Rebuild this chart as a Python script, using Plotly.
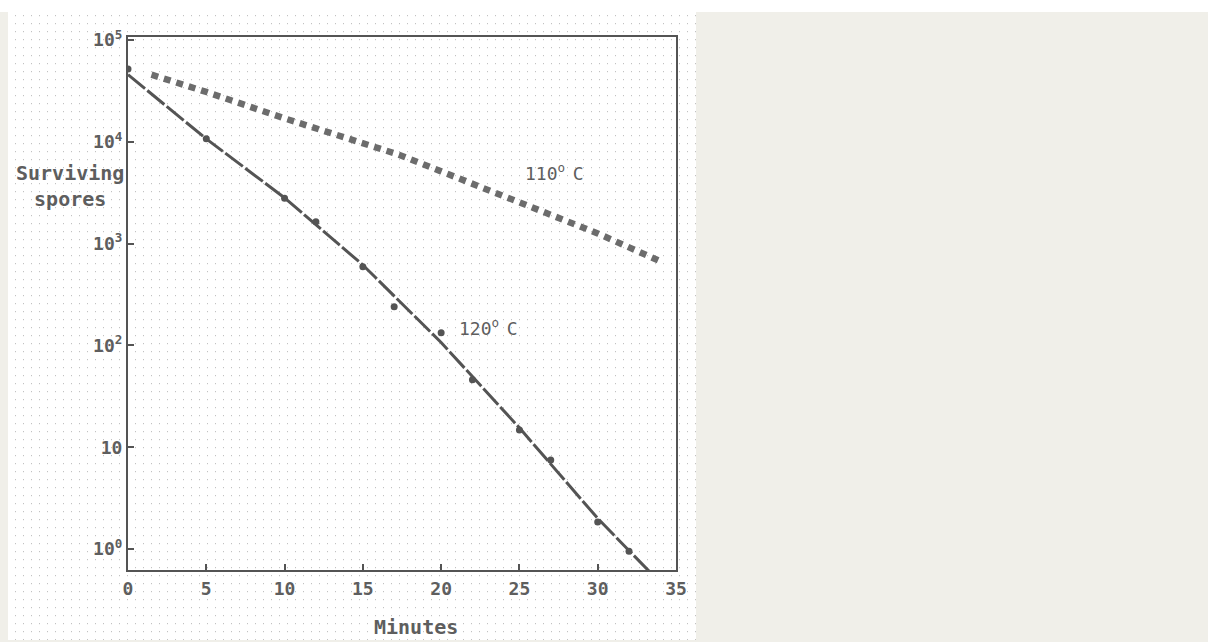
import base64
import plotly.graph_objects as go

# ---- data ----
# 120 C : measured points (circles)
t120_pts = [0, 5, 10, 12, 15, 17, 20, 22, 25, 27, 30, 32]
n120_pts = [52000, 10700, 2800, 1640, 593, 240, 133, 46, 14.8, 7.5, 1.84, 0.95]
# 120 C : drawn curve
t120_fit = [0, 5, 10, 15, 20, 25, 30, 33.4]
n120_fit = [45700, 10700, 2820, 617, 107, 15.5, 2.0, 0.58]
# 110 C : curve drawn with square dots
t110 = [1.5, 5, 10, 15, 17.3, 20, 25, 30, 34.1]
n110 = [45700, 30900, 17000, 9550, 7480, 5130, 2570, 1260, 660]

x_ticks = [0, 5, 10, 15, 20, 25, 30, 35]
y_ticks = [1, 10, 100, 1000, 10000, 100000]
y_tick_text = ["10<sup>0</sup>", "10", "10<sup>2</sup>", "10<sup>3</sup>",
               "10<sup>4</sup>", "10<sup>5</sup>"]

INK = "#545454"
TXT = "#5e5e5e"
FONT = "DejaVu Sans Mono"
FS = 18

# ---- layout geometry (pixels) ----
W, H = 1208, 642
L, R, T, B = 128, 532, 37, 72
PW, PH = W - L - R, H - T - B


def px(x):
    return (x - L) / PW


def py(y):
    return (H - B - y) / PH


# dotted background texture as an inline SVG image
img_w, img_h = 688, 628
svg = (
    f"<svg xmlns='http://www.w3.org/2000/svg' width='{img_w}' height='{img_h}' "
    f"viewBox='0 0 {img_w} {img_h}'>"
    "<defs><pattern id='p' x='0' y='0' width='8' height='8' patternUnits='userSpaceOnUse'>"
    "<rect x='7' y='3' width='1.2' height='1.2' fill='#c2c2c2'/></pattern></defs>"
    "<rect width='100%' height='100%' fill='#ffffff'/>"
    "<rect width='100%' height='100%' fill='url(#p)'/></svg>"
)
src = "data:image/svg+xml;base64," + base64.b64encode(svg.encode()).decode()

fig = go.Figure()

fig.add_trace(go.Scatter(
    x=t110, y=n110, mode="lines",
    line=dict(color="#6c6c6c", width=6.5, dash="7px,6px"),
    hoverinfo="skip", showlegend=False))

fig.add_trace(go.Scatter(
    x=t120_fit, y=n120_fit, mode="lines",
    line=dict(color=INK, width=3, dash="22px,3px"),
    hoverinfo="skip", showlegend=False))

fig.add_trace(go.Scatter(
    x=t120_pts, y=n120_pts, mode="markers",
    marker=dict(color=INK, size=7, symbol="circle"),
    hoverinfo="skip", showlegend=False))

axis_common = dict(
    showline=True, linecolor=INK, linewidth=2, mirror=True,
    ticks="inside", ticklen=6, tickwidth=2, tickcolor=INK,
    showgrid=False, zeroline=False,
    tickfont=dict(family=FONT, size=FS, color=TXT, weight="bold"),
)

fig.update_layout(
    width=W, height=H, autosize=False,
    margin=dict(l=L, r=R, t=T, b=B, pad=0),
    paper_bgcolor="#f0efe9",
    plot_bgcolor="rgba(0,0,0,0)",
    xaxis=dict(range=[0, 35], tickvals=x_ticks, ticktext=[str(v) for v in x_ticks],
               ticklabelstandoff=1, **axis_common),
    yaxis=dict(type="log", range=[-0.206, 5.03], tickvals=y_ticks, ticktext=y_tick_text,
               ticklabelstandoff=0, **axis_common),
    images=[dict(source=src, xref="paper", yref="paper",
                 x=px(8), y=py(12), sizex=img_w / PW, sizey=img_h / PH,
                 xanchor="left", yanchor="top", sizing="stretch", layer="below")],
    shapes=[dict(type="rect", xref="paper", yref="paper",
                 x0=px(0), x1=px(W), y0=py(0), y1=py(12),
                 fillcolor="#ffffff", line=dict(width=0), layer="below")],
    annotations=[
        dict(text="Surviving<br>spores", x=px(70), y=py(186), xref="paper", yref="paper",
             showarrow=False, xanchor="center", yanchor="middle", align="center",
             font=dict(family=FONT, size=20, color=TXT, weight="bold")),
        dict(text="Minutes", x=px(416), y=py(627), xref="paper", yref="paper",
             showarrow=False, xanchor="center", yanchor="middle",
             font=dict(family=FONT, size=20, color=TXT, weight="bold")),
        dict(text="110<sup>o </sup>C", x=px(554), y=py(172), xref="paper", yref="paper",
             showarrow=False, xanchor="center", yanchor="middle",
             font=dict(family=FONT, size=FS, color=TXT)),
        dict(text="120<sup>o </sup>C", x=px(488), y=py(327), xref="paper", yref="paper",
             showarrow=False, xanchor="center", yanchor="middle",
             font=dict(family=FONT, size=FS, color=TXT)),
    ],
)

fig.write_html(
    "out.html",
    config={"displayModeBar": False},
    post_script="document.body.style.margin='0';document.body.style.padding='0';"
                "document.body.style.overflow='hidden';",
)
